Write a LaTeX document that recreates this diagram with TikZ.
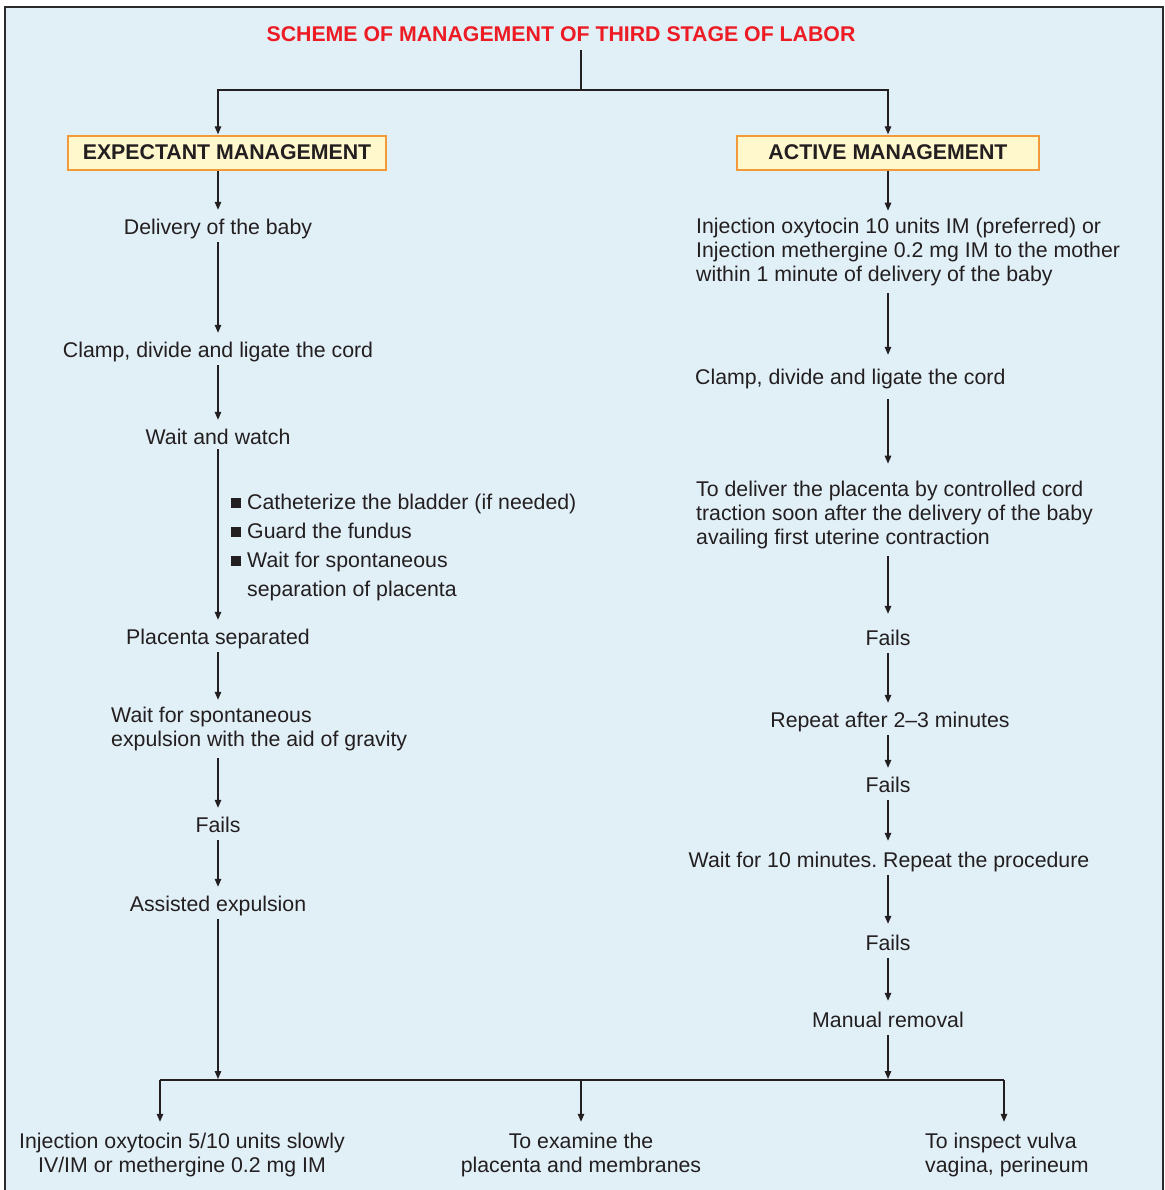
\documentclass[tikz,border=0pt]{standalone}
\usepackage{fontspec}
\setmainfont{Liberation Sans}
\frenchspacing
\usetikzlibrary{arrows.meta}
\definecolor{bgc}{HTML}{E1EFF7}
\definecolor{ink}{HTML}{231F20}
\definecolor{framec}{HTML}{2B2B2B}
\definecolor{boxfill}{HTML}{FFF8CC}
\definecolor{boxedge}{HTML}{F29A3A}
\definecolor{titlered}{HTML}{ED1C24}
\newcommand\blt{\rule[1.5pt]{9.5pt}{9.5pt}}
\begin{document}
\begin{tikzpicture}[x=1pt,y=-1pt,
  txt/.style={font=\fontsize{21.3}{24.2}\selectfont, text=ink, inner xsep=0pt, inner ysep=4pt},
  one/.style={txt, text height=17pt, text depth=1pt},
  arr/.style={draw=ink, line width=1.3pt, -{Triangle[length=8pt,width=6.5pt]}, shorten >=3pt, shorten <=3pt},
  ln/.style={draw=ink, line width=1.3pt},
  hdr/.style={draw=boxedge, fill=boxfill, line width=1.3pt, font=\fontsize{21.3}{24}\selectfont\bfseries, text=ink, minimum height=34pt, inner xsep=0pt, text height=14pt, text depth=0pt}
]
\useasboundingbox (0,0) rectangle (1164,1190);
\fill[white] (0,0) rectangle (1164,1190);
\fill[bgc] (5,7) rectangle (1163,1195);
\draw[framec, line width=2.5pt] (5,1195) -- (5,7) -- (1163,7) -- (1163,1195);

% title and headers
\node[one, font=\fontsize{21.3}{24}\selectfont\bfseries, text=titlered] (title) at (561,34) {SCHEME OF MANAGEMENT OF THIRD STAGE OF LABOR};
\node[hdr, minimum width=318pt] (em) at (227,153) {EXPECTANT MANAGEMENT};
\node[hdr, minimum width=302pt] (am) at (888,153) {ACTIVE MANAGEMENT};

% left column
\node[one] (ld1) at (218,226) {Delivery of the baby};
\node[one] (ld2) at (218,349) {Clamp, divide and ligate the cord};
\node[one] (ld3) at (218,436) {Wait and watch};
\node[txt, inner ysep=0pt, anchor=west, font=\fontsize{21.3}{29}\selectfont] (bl) at (231,547)
  {\begin{tabular}{@{}l@{\hspace{6.5pt}}l@{}}
   \blt & Catheterize the bladder (if needed)\\
   \blt & Guard the fundus\\
   \blt & Wait for spontaneous\\
        & separation of placenta
   \end{tabular}};
\node[one] (ld4) at (218,636) {Placenta separated};
\node[txt, align=left, anchor=west] (ld5) at (111,729) {Wait for spontaneous\\expulsion with the aid of gravity};
\node[one] (ld6) at (218,824) {Fails};
\node[one] (ld7) at (218,903) {Assisted expulsion};

% right column
\node[txt, align=left, anchor=west] (rd1) at (696,252) {Injection oxytocin 10 units IM (preferred) or\\Injection methergine 0.2 mg IM to the mother\\within 1 minute of delivery of the baby};
\node[one, anchor=west] (rd2) at (695,376) {Clamp, divide and ligate the cord};
\node[txt, align=left, anchor=west] (rd3) at (696,515) {To deliver the placenta by controlled cord\\traction soon after the delivery of the baby\\availing first uterine contraction};
\node[one] (rd4) at (888,637) {Fails};
\node[one] (rd5) at (890,719) {Repeat after 2--3 minutes};
\node[one] (rd6) at (888,784) {Fails};
\node[one] (rd7) at (889,859) {Wait for 10 minutes. Repeat the procedure};
\node[one] (rd8) at (888,942) {Fails};
\node[one] (rd9) at (888,1019) {Manual removal};

% bottom row
\node[txt, align=center] (b1) at (182,1155) {Injection oxytocin 5/10 units slowly\\IV/IM or methergine 0.2 mg IM};
\node[txt, align=center] (b2) at (581,1155) {To examine the\\placenta and membranes};
\node[txt, align=left, anchor=west] (b3) at (925,1155) {To inspect vulva\\vagina, perineum};

% junction coordinates
\coordinate (tj) at (581,90);
\coordinate (jn) at (581,1080);
\coordinate (jl) at (160,1080);
\coordinate (jr) at (1004,1080);

% top connectors
\draw[ln, shorten <=3pt] (title.south -| tj) -- (tj);
\draw[arr, shorten <=0pt, shorten >=1pt] (tj) -| (em.north -| ld1);
\draw[arr, shorten <=0pt, shorten >=1pt] (tj) -| (am.north -| rd4);

% left column connectors
\draw[arr, shorten <=0pt] (em.south -| ld1) -- (ld1.north);
\draw[arr] (ld1.south) -- (ld2.north);
\draw[arr] (ld2.south) -- (ld3.north);
\draw[arr, shorten <=0pt] (ld3.south) -- (ld4.north);
\draw[arr] (ld4.south) -- (ld5.north -| ld4);
\draw[arr] (ld5.south -| ld4) -- (ld6.north);
\draw[arr] (ld6.south) -- (ld7.north);
\draw[arr, shorten >=1pt] (ld7.south) -- (ld7.south |- jn);

% right column connectors
\draw[arr, shorten <=0pt] (am.south -| rd4) -- (rd1.north -| rd4);
\draw[arr, shorten >=8pt] (rd1.south -| rd4) -- (rd2.north -| rd4);
\draw[arr, shorten <=10pt, shorten >=13pt] (rd2.south -| rd4) -- (rd3.north -| rd4);
\draw[arr, shorten >=10pt] (rd3.south -| rd4) -- (rd4.north);
\draw[arr] (rd4.south) -- (rd5.north -| rd4);
\draw[arr] (rd5.south -| rd4) -- (rd6.north);
\draw[arr, shorten >=5pt] (rd6.south) -- (rd7.north -| rd4);
\draw[arr, shorten >=5pt] (rd7.south -| rd4) -- (rd8.north);
\draw[arr, shorten >=5pt] (rd8.south) -- (rd9.north);
\draw[arr, shorten >=1pt] (rd9.south) -- (rd9.south |- jn);

% bottom distribution
\draw[ln] (jl) -- (jr);
\draw[arr, shorten <=0pt, shorten >=7pt] (jl) -- (jl |- b1.north);
\draw[arr, shorten <=0pt, shorten >=7pt] (jn) -- (b2.north);
\draw[arr, shorten <=0pt, shorten >=7pt] (jr) -- (jr |- b3.north);
\end{tikzpicture}
\end{document}
